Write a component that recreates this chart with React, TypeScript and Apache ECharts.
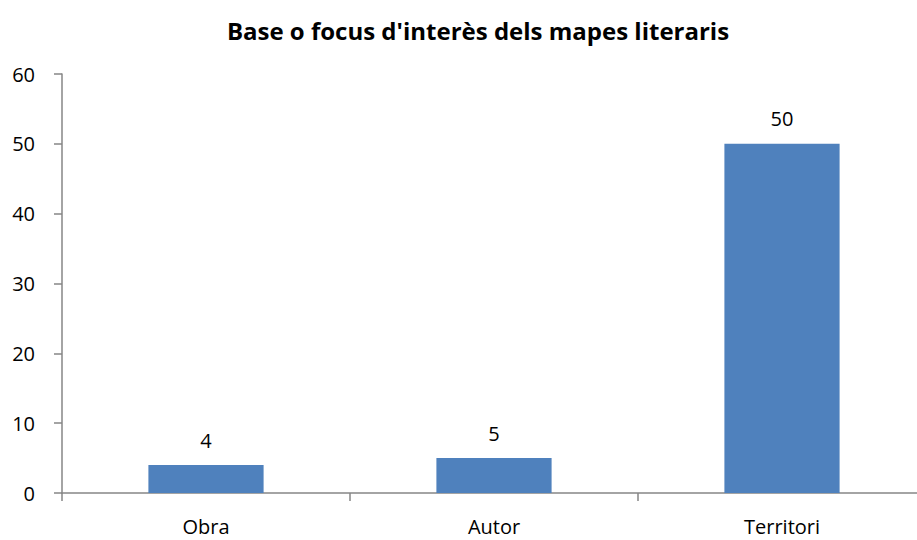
import React, { useEffect, useRef } from "react";
import * as echarts from "echarts";

const categories = ["Obra", "Autor", "Territori"];
const values = [4, 5, 50];
const titleText = "Base o focus d'interès dels mapes literaris";

export default function App() {
  const ref = useRef<HTMLDivElement>(null);
  useEffect(() => {
    const chart = echarts.init(ref.current!, undefined, { renderer: "svg" });
    chart.setOption({
      animation: false,
      textStyle: { fontFamily: "'Open Sans', sans-serif" },
      title: {
        text: titleText,
        left: 473,
        textAlign: "center",
        top: 13,
        textStyle: { fontSize: 24, fontWeight: "bold", color: "#000", fontFamily: "'Open Sans', sans-serif" },
      },
      grid: { left: 62, top: 74, right: 0, bottom: 47, containLabel: false },
      xAxis: {
        type: "category",
        data: categories,
        axisLine: { lineStyle: { color: "#868686", width: 1.5 } },
        axisTick: { show: true, length: 8, lineStyle: { color: "#868686", width: 1.5 } },
        axisLabel: { color: "#000", fontSize: 20, margin: 23 },
      },
      yAxis: {
        type: "value",
        min: 0,
        max: 60,
        interval: 10,
        splitLine: { show: false },
        axisLine: { show: true, lineStyle: { color: "#868686", width: 1.5 } },
        axisTick: { show: true, length: 8, lineStyle: { color: "#868686", width: 1.5 } },
        axisLabel: { color: "#000", fontSize: 20, margin: 27 },
      },
      series: [
        {
          type: "bar",
          data: values,
          barWidth: "40%",
          itemStyle: { color: "#4F81BD" },
          label: { show: true, position: "top", distance: 15, color: "#000", fontSize: 20 },
        },
      ],
    });
    return () => chart.dispose();
  }, []);
  return (
    <div style={{ position: "absolute", left: 0, top: 0, width: 917, height: 540, overflow: "hidden" }}>
      <div ref={ref} style={{ width: 926, height: 540 }} />
    </div>
  );
}
